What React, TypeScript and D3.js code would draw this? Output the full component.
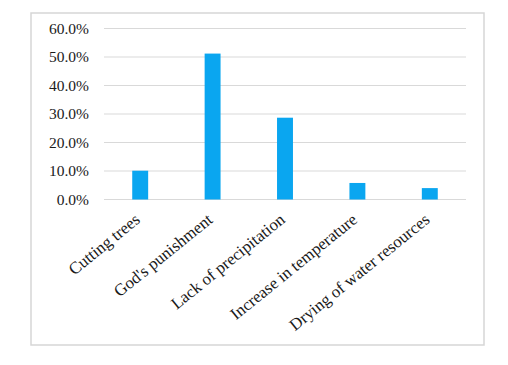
import React from 'react';
import * as d3 from 'd3';

const categories = ['Cutting trees', "God's punishment", 'Lack of precipitation', 'Increase in temperature', 'Drying of water resources'];
const values = [0.101, 0.512, 0.287, 0.058, 0.04];
const yTicks = [0, 0.1, 0.2, 0.3, 0.4, 0.5, 0.6];

const App = () => {
  const Width = 508;
  const Height = 365;
  const margin = { top: 28.5, right: 42, bottom: 165.5, left: 104 };
  const chartWidth = Width - margin.left - margin.right;
  const chartHeight = Height - margin.top - margin.bottom;

  const xScale = d3.scaleBand().domain(categories).range([0, chartWidth]).paddingInner(0.78).paddingOuter(0.39);
  const yScale = d3.scaleLinear().domain([0, 0.6]).range([chartHeight, 0]);
  const fmt = d3.format('.1%');

  const font = "'Liberation Serif', 'Times New Roman', serif";

  return (
    <svg width={Width} height={Height} style={{ position: 'absolute', left: 0, top: 0 }}>
      <rect x={0} y={0} width={Width} height={Height} fill="#fff" />
      <rect x={31} y={13} width={453} height={332} fill="#fff" stroke="#d6d6d6" strokeWidth={1.5} />
      <g transform={`translate(${margin.left}, ${margin.top})`}>
        {yTicks.map((t) => (
          <g key={t}>
            <line x1={0} x2={chartWidth} y1={yScale(t)} y2={yScale(t)} stroke="#d9d9d9" strokeWidth={1.2} />
            <text x={-15} y={yScale(t)} dy="0.35em" textAnchor="end" fill="#1a1a1a" style={{ fontSize: '15.5px', fontFamily: font }}>
              {fmt(t)}
            </text>
          </g>
        ))}
        {categories.map((c, i) => (
          <rect key={c} x={xScale(c)} y={yScale(values[i])} width={xScale.bandwidth()} height={chartHeight - yScale(values[i])} fill="#0aa6f0" />
        ))}
        {categories.map((c) => {
          const cx = (xScale(c) as number) + xScale.bandwidth() / 2 + 1;
          const cy = chartHeight + 22;
          return (
            <text
              key={c}
              x={cx}
              y={cy}
              textAnchor="end"
              fill="#1a1a1a"
              transform={`rotate(-39, ${cx}, ${cy})`}
              style={{ fontSize: '16.8px', fontFamily: font }}
            >
              {c}
            </text>
          );
        })}
      </g>
    </svg>
  );
};

export default App;
